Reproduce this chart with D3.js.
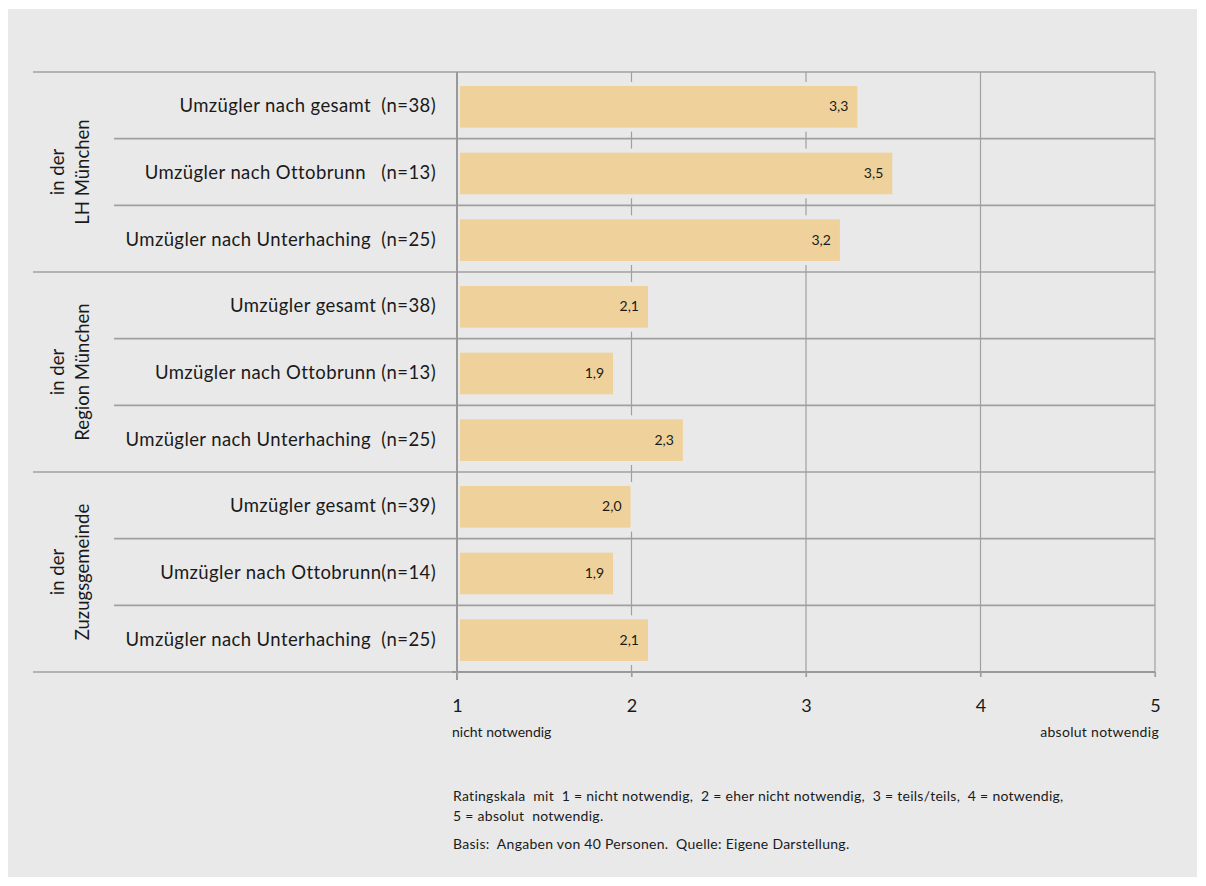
<!DOCTYPE html>
<html><head><meta charset="utf-8">
<script src="https://cdn.jsdelivr.net/npm/d3@7"></script>
<style>
html,body{margin:0;padding:0;background:#fff;}
svg text{font-family:Lato,"Open Sans",sans-serif;fill:#1a1a1a;}
</style></head>
<body>
<script>
const groups = [["in der","LH München"],["in der","Region München"],["in der","Zuzugsgemeinde"]];
const categories = [
 "Umzügler nach gesamt  (n=38)",
 "Umzügler nach Ottobrunn   (n=13)",
 "Umzügler nach Unterhaching  (n=25)",
 "Umzügler gesamt (n=38)",
 "Umzügler nach Ottobrunn (n=13)",
 "Umzügler nach Unterhaching  (n=25)",
 "Umzügler gesamt (n=39)",
 "Umzügler nach Ottobrunn(n=14)",
 "Umzügler nach Unterhaching  (n=25)"
];
const groupIndex = [0,0,0,1,1,1,2,2,2];
const values = [3.3,3.5,3.2,2.1,1.9,2.3,2.0,1.9,2.1];
const ticks = [1,2,3,4,5];
const endLabels = ["nicht notwendig","absolut notwendig"];
const notes = ["Ratingskala  mit  1 = nicht notwendig,  2 = eher nicht notwendig,  3 = teils/teils,  4 = notwendig,",
 "5 = absolut  notwendig.",
 "Basis:  Angaben von 40 Personen.  Quelle: Eigene Darstellung."];

const W=1206,H=886;
const svg=d3.select("body").append("svg").attr("width",W).attr("height",H);
svg.append("rect").attr("x",8).attr("y",9).attr("width",1189).attr("height",868).attr("fill","#e9e9e9");

const x=d3.scaleLinear().domain([1,5]).range([457,1155]);
const y=d3.scaleBand().domain(d3.range(categories.length)).range([72,672]).padding(0);
const bg="#e9e9e9", grid="#a0a0a0";

// vertical gridlines
svg.selectAll(".vg").data(ticks.slice(1)).join("line")
 .attr("x1",d=>x(d)).attr("x2",d=>x(d)).attr("y1",72).attr("y2",677)
 .attr("stroke",grid).attr("stroke-width",1.2);

// horizontal row lines
const bounds=d3.range(categories.length+1);
svg.selectAll(".hg").data(bounds).join("line")
 .attr("x1",i=>(i%3===0)?33:114).attr("x2",x(5))
 .attr("y1",i=>i<categories.length?y(i):y.range()[1]).attr("y2",i=>i<categories.length?y(i):y.range()[1])
 .attr("stroke",grid).attr("stroke-width",1.6);

// bars with background halo
const bh=y.bandwidth();
svg.selectAll(".bar").data(values).join("rect")
 .attr("x",x(1)+3).attr("y",(d,i)=>y(i)+14)
 .attr("width",d=>x(d)-x(1)-4).attr("height",bh-25)
 .attr("fill","#efd29b").attr("stroke",bg).attr("stroke-width",8).attr("paint-order","stroke");

// value labels
svg.selectAll(".vl").data(values).join("text")
 .attr("x",d=>x(d)-10).attr("y",(d,i)=>y(i)+bh/2+6)
 .attr("text-anchor","end").attr("font-size",14)
 .text(d=>d3.format(".1f")(d).replace(".",","));

// axis lines
svg.append("line").attr("x1",x(1)).attr("x2",x(1)).attr("y1",72).attr("y2",680).attr("stroke","#999").attr("stroke-width",2);
svg.append("line").attr("x1",x(1)-5).attr("x2",x(5)).attr("y1",672).attr("y2",672).attr("stroke","#999").attr("stroke-width",2);

// x axis tick labels
const ax=svg.append("g").attr("transform","translate(0,672)")
 .call(d3.axisBottom(x).tickValues(ticks).tickSize(5).tickFormat(d3.format("d")));
ax.select(".domain").remove();
ax.selectAll(".tick line").attr("stroke",grid).attr("stroke-width",1.2);
ax.selectAll(".tick text").attr("font-size",18).attr("dy",0).attr("y",40).attr("fill","#1a1a1a").attr("font-family","Lato");

svg.append("text").attr("x",452).attr("y",737).attr("font-size",14).text(endLabels[0]);
svg.append("text").attr("x",1159).attr("y",737).attr("font-size",14).attr("letter-spacing",0.3).attr("text-anchor","end").text(endLabels[1]);

// category labels
svg.selectAll(".cl").data(categories).join("text")
 .attr("x",436).attr("y",(d,i)=>y(i)+bh/2+7)
 .attr("text-anchor","end").attr("font-size",18.5).attr("letter-spacing",0.4)
 .style("white-space","pre").text(d=>d);

// group labels
groups.forEach((g,gi)=>{
 const cy=(y(gi*3)+y(gi*3+2)+bh)/2;
 const t=svg.append("text").attr("transform",`translate(0,${cy}) rotate(-90)`)
  .attr("text-anchor","middle").attr("font-size",18.5);
 t.append("tspan").attr("x",0).attr("y",64).text(g[0]);
 t.append("tspan").attr("x",0).attr("y",89).text(g[1]);
});

// notes
const ny=[801,821,849];
notes.forEach((n,i)=>svg.append("text").attr("x",453).attr("y",ny[i]).attr("font-size",14).attr("letter-spacing",0.28)
 .style("white-space","pre").text(n));
</script>
</body></html>
